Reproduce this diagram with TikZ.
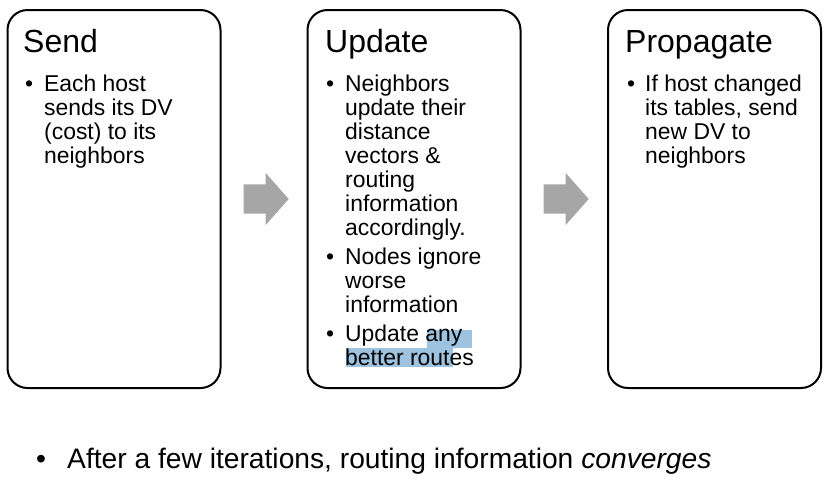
\documentclass[tikz,border=0pt]{standalone}
\usepackage{fontspec}
\setmainfont{Liberation Sans}
\usetikzlibrary{shapes.arrows}
\usetikzlibrary{positioning}
\definecolor{hilite}{RGB}{157,195,224}
\definecolor{arrowgray}{RGB}{166,166,166}

\begin{document}
\begin{tikzpicture}[x=1pt,y=-1pt,
  step box/.style={draw,black,line width=2pt,rounded corners=20pt,
    minimum width=213pt,minimum height=378pt,inner sep=0pt},
  title/.style={anchor=base west,inner sep=0pt,font=\fontsize{32}{36}\selectfont},
  body/.style={anchor=base west,inner sep=0pt,align=left,
    font=\fontsize{22.9}{24}\selectfont},
  block arrow/.style={single arrow,fill=arrowgray,draw=none,inner xsep=0pt,
    inner ysep=14.5pt,minimum height=45pt,single arrow head extend=11.5pt,
    single arrow tip angle=97,single arrow head indent=0pt}]
\useasboundingbox (0,0) rectangle (830,483);
% boxes
\node [step box, name=send]      at (114,199) {};
\node [step box, name=update]    at (414,199) {};
\node [step box, name=propagate] at (714.5,199) {};
% arrows between boxes
\node [block arrow, right=22pt of send, name=a1] {};
\node [block arrow, right=22pt of update, name=a2] {};
% highlight
\fill [hilite] (427,330) rectangle (472,348);
\fill [hilite] (346,348) rectangle (453,367);
% Send (multi-line nodes sit on their last baseline)
\node [title, name=t1] at (23,52) {Send};
\node [body, name=b1]  at (25,91.7) {\textbullet};
\node [body, name=s1]  at (44,163.7) {Each host\\sends its DV\\(cost) to its\\neighbors};
% Update
\node [title, name=t2] at (325,52) {Update};
\node [body, name=b2]  at (326,91.7) {\textbullet};
\node [body, name=u1]  at (345,235.7) {Neighbors\\update their\\distance\\vectors \&\\routing\\information\\accordingly.};
\node [body, name=b3]  at (326,264.5) {\textbullet};
\node [body, name=u2]  at (345,312.5) {Nodes ignore\\worse\\information};
\node [body, name=b4]  at (326,341.5) {\textbullet};
\node [body, name=u3]  at (345,365.5) {Update any\\better routes};
% Propagate
\node [title, name=t3] at (625,52) {Propagate};
\node [body, name=b5]  at (627,91.7) {\textbullet};
\node [body, name=p1]  at (645,163.7) {If host changed\\its tables, send\\new DV to\\neighbors};
% bottom line
\node [body, font=\fontsize{28.2}{32}\selectfont, name=b6] at (36,468) {\textbullet};
\node [body, font=\fontsize{28.2}{32}\selectfont, name=c1] at (67,468) {After a few iterations, routing information \textit{converges}};
\end{tikzpicture}
\end{document}
